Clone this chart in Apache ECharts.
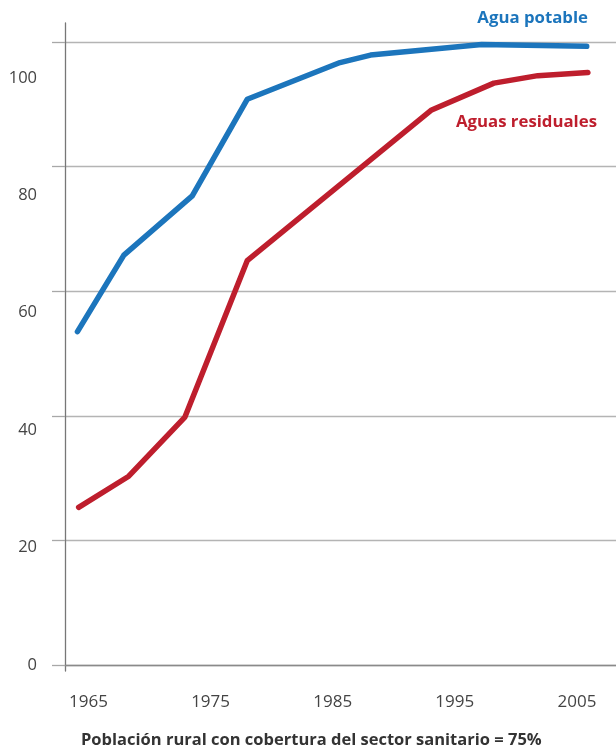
<!DOCTYPE html>
<html>
<head>
<meta charset="utf-8">
<script src="https://cdn.jsdelivr.net/npm/echarts@6/dist/echarts.min.js"></script>
<style>
html,body{margin:0;padding:0;background:#fff;}
#chart{width:616px;height:750px;}
</style>
</head>
<body>
<div id="chart"></div>
<script>
const yearLabels = [1965, 1975, 1985, 1995, 2005];
const yTickLabels = [0, 20, 40, 60, 80, 100];

const aguaYears  = [1964.1, 1967.9, 1973.5, 1978.0, 1985.6, 1988.1, 1997.2, 2005.8];
const aguaValues = [53.5, 65.8, 75.3, 90.8, 96.7, 97.9, 99.6, 99.3];

const residYears  = [1964.2, 1968.3, 1972.9, 1978.0, 1993.1, 1998.2, 2001.8, 2005.9];
const residValues = [25.3, 30.3, 39.8, 64.9, 89.1, 93.4, 94.6, 95.1];

const seriesNames = ['Agua potable', 'Aguas residuales'];
const footerText = 'Población rural con cobertura del sector sanitario = 75%';

const pairs = (xs, ys) => xs.map((x, i) => [x, ys[i]]);

const FONT = '"Open Sans", "Noto Sans", sans-serif';
const BLUE = '#1c75bc';
const RED = '#be1e2d';

const chart = echarts.init(document.getElementById('chart'), null, {renderer: 'canvas'});
chart.setOption({
  animation: false,
  backgroundColor: '#ffffff',
  grid: [
    {left: 65, right: 0, top: 42, bottom: 85},
    {left: 65, right: 0, top: 23, bottom: 79}
  ],
  xAxis: [
    {
      type: 'value', gridIndex: 0,
      min: 1963.08, max: 2008.2,
      axisLine: {show: true, lineStyle: {color: '#8a8a8a', width: 1.3}},
      axisTick: {show: false},
      splitLine: {show: false},
      axisLabel: {
        customValues: yearLabels,
        margin: 29,
        color: '#444', fontSize: 17, fontFamily: FONT,
        formatter: v => String(Math.round(v))
      }
    },
    {type: 'value', gridIndex: 1, show: false, min: 0, max: 1}
  ],
  yAxis: [
    {
      type: 'value', gridIndex: 0,
      min: 0, max: 100, interval: 20,
      axisLine: {show: false},
      axisTick: {show: true, inside: false, length: 13, lineStyle: {color: '#a8a8a8', width: 1.3}},
      axisLabel: {show: false},
      splitLine: {show: true, lineStyle: {color: '#b4b4b4', width: 1.3}}
    },
    {
      type: 'value', gridIndex: 0,
      min: 0, max: 106.13, interval: 20,
      position: 'left',
      axisLine: {show: false},
      axisTick: {show: false},
      splitLine: {show: false},
      axisLabel: {
        show: true, showMaxLabel: false, margin: 28,
        color: '#444', fontSize: 16.5, fontFamily: FONT,
        formatter: v => (yTickLabels.indexOf(Math.round(v)) >= 0 && Math.abs(v - Math.round(v)) < 1e-6) ? String(Math.round(v)) : ''
      }
    },
    {
      type: 'value', gridIndex: 1, min: 0, max: 1,
      axisLine: {show: true, onZero: false, lineStyle: {color: '#777', width: 1.3}},
      axisTick: {show: false},
      axisLabel: {show: false},
      splitLine: {show: false}
    }
  ],
  series: [
    {
      name: seriesNames[0], type: 'line', xAxisIndex: 0, yAxisIndex: 0,
      data: pairs(aguaYears, aguaValues),
      symbol: 'none', smooth: false,
      lineStyle: {color: BLUE, width: 5.5, cap: 'round', join: 'round'}
    },
    {
      name: seriesNames[1], type: 'line', xAxisIndex: 0, yAxisIndex: 0,
      data: pairs(residYears, residValues),
      symbol: 'none', smooth: false,
      lineStyle: {color: RED, width: 5.5, cap: 'round', join: 'round'}
    }
  ],
  graphic: [
    {type: 'text', right: 28, top: 10, style: {text: seriesNames[0], fill: BLUE, font: 'bold 16.8px ' + FONT}},
    {type: 'text', right: 19, top: 114, style: {text: seriesNames[1], fill: RED, font: 'bold 16.8px ' + FONT}},
    {type: 'text', left: 81, top: 732, style: {text: footerText, fill: '#333', font: 'bold 16.5px ' + FONT}}
  ]
});
</script>
</body>
</html>
